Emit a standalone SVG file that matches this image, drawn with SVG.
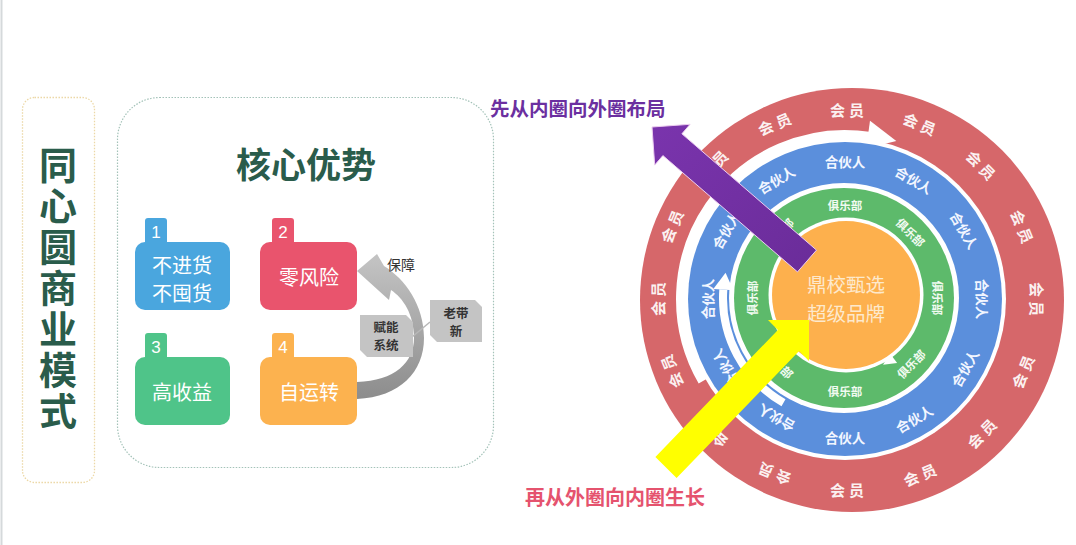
<svg xmlns="http://www.w3.org/2000/svg" width="1076" height="545" viewBox="0 0 1076 545">
<defs>
<style>
.cjk{font-family:"Noto Sans CJK SC","Noto Sans",sans-serif}
.rl{font-family:"Noto Sans CJK SC",sans-serif;font-weight:700;text-anchor:middle;dominant-baseline:central;fill:#fbf1f1}
.red{font-size:15px;letter-spacing:4px}
.blue{font-size:13.5px;fill:#f2f6ff}
.green{font-size:11.5px;fill:#f1fbf1}
.card{font-family:"Noto Sans CJK SC",sans-serif;font-size:20px;fill:#ffffff;text-anchor:middle}
.num{font-family:"Liberation Sans","Noto Sans",sans-serif;font-size:17px;fill:#ffffff;text-anchor:middle}
.snip{fill:#c4c4c4}
.snipt{font-family:"Noto Sans CJK SC",sans-serif;font-size:12.5px;font-weight:700;fill:#333;text-anchor:middle}
</style>
<linearGradient id="gArc" x1="0" y1="260" x2="0" y2="400" gradientUnits="userSpaceOnUse">
<stop offset="0" stop-color="#c2c2c2"/><stop offset="1" stop-color="#8c8c8c"/>
</linearGradient>
<linearGradient id="gPur" x1="0" y1="0" x2="1" y2="1">
<stop offset="0" stop-color="#7a34ad"/><stop offset="1" stop-color="#6a2c99"/>
</linearGradient>
</defs>
<rect width="1076" height="545" fill="#ffffff"/>
<line x1="1.5" y1="0" x2="1.5" y2="545" stroke="#d5d9db" stroke-width="2"/>

<g id="title-box">
<rect x="22.5" y="97.5" width="72" height="385" rx="12" fill="none" stroke="#ecd8a6" stroke-width="1.3" stroke-dasharray="1.5 1.5"/>
<text class="cjk" x="58" y="146" font-size="38" font-weight="700" fill="#2a5c4b" style="writing-mode:vertical-rl;text-orientation:upright;letter-spacing:3px">同心圆商业模式</text>
</g>

<g id="core-box">
<rect x="117.5" y="97.5" width="376" height="370" rx="42" fill="none" stroke="#a3c2b8" stroke-width="1.2" stroke-dasharray="1.5 1.5"/>
<text class="cjk" x="306" y="178" font-size="35" font-weight="700" fill="#2a5c4b" text-anchor="middle">核心优势</text>
</g>

<g id="card1">
<rect x="145" y="218" width="22" height="30" rx="3" fill="#4aa6de"/>
<rect x="135" y="242" width="95" height="68" rx="10" fill="#4aa6de"/>
<text class="num" x="156" y="238">1</text>
<text class="card" x="182" y="273">不进货</text>
<text class="card" x="182" y="301">不囤货</text>
</g>
<g id="card2">
<rect x="272" y="218" width="22" height="30" rx="3" fill="#e9546d"/>
<rect x="260" y="242" width="97" height="68" rx="10" fill="#e9546d"/>
<text class="num" x="283" y="238">2</text>
<text class="card" x="309" y="285">零风险</text>
</g>
<g id="card3">
<rect x="145" y="333" width="22" height="30" rx="3" fill="#4fc489"/>
<rect x="135" y="357" width="95" height="68" rx="10" fill="#4fc489"/>
<text class="num" x="156" y="353">3</text>
<text class="card" x="182" y="400">高收益</text>
</g>
<g id="card4">
<rect x="272" y="333" width="22" height="30" rx="3" fill="#fcb24f"/>
<rect x="260" y="357" width="97" height="68" rx="10" fill="#fcb24f"/>
<text class="num" x="283" y="353">4</text>
<text class="card" x="309" y="400">自运转</text>
</g>

<g id="connectors">
<path d="M357,271 L377,254 L384,266 C405,279 424,305 424,338 C424,372 400,397 357,399 L357,382 C395,381 414,362 414,338 C414,314 403,298 391,290 L389,300 Z" fill="url(#gArc)"/>
<line x1="412" y1="337" x2="430" y2="322" stroke="#b8b8b8" stroke-width="1.5"/>
</g>

<g id="label-baozhang">
<text class="cjk" x="401" y="270" font-size="14" fill="#333" text-anchor="middle">保障</text>
</g>
<g id="box-funeng">
<polygon class="snip" points="360,315 406,315 413,322 413,357 367,357 360,350"/>
<text class="snipt" x="386" y="332">赋能<tspan x="386" dy="18">系统</tspan></text>
</g>
<g id="box-laodaixin">
<polygon class="snip" points="430,300 475,300 482,307 482,342 437,342 430,335"/>
<text class="snipt" x="456" y="318">老带<tspan x="456" dy="18">新</tspan></text>
</g>

<g id="rings">
<circle cx="852" cy="300" r="212" fill="#d6676a"/>
<circle cx="845" cy="299" r="161" fill="#ffffff"/>
<path d="M703,381 A164,164 0 0 1 870.6,137" fill="none" stroke="#ffffff" stroke-width="10"/>
<polygon points="896.3,141.1 870,120.7 866.2,148.5" fill="#ffffff"/>
<circle cx="845" cy="299" r="157" fill="#5b8fdc"/>
<circle cx="844" cy="298" r="115" fill="#ffffff"/>
<path d="M783.5,402.8 A121,121 0 0 1 723.3,289.6" fill="none" stroke="#ffffff" stroke-width="8"/>
<polygon points="725.6,272.8 713.3,288.9 733.3,290.3" fill="#ffffff"/>
<circle cx="844" cy="298" r="110" fill="#5dba6b"/>
<circle cx="846" cy="295" r="77.5" fill="#ffffff"/>
<polygon points="883.1,364.8 897.1,362.9 889.9,353.3" fill="#ffffff"/>
<circle cx="846" cy="295" r="74" fill="#fdb04d"/>
</g>

<g id="ring-labels-member">
<text class="rl red" x="2" transform="translate(847,109) rotate(0)">会员</text>
<text class="rl red" x="2" transform="translate(919.7,123.5) rotate(22.5)">会员</text>
<text class="rl red" x="2" transform="translate(981.3,164.7) rotate(45)">会员</text>
<text class="rl red" x="2" transform="translate(1022.5,226.3) rotate(67.5)">会员</text>
<text class="rl red" x="2" transform="translate(1037,299) rotate(90)">会员</text>
<text class="rl red" x="2" transform="translate(1022.5,371.7) rotate(-67.5)">会员</text>
<text class="rl red" x="2" transform="translate(981.3,433.3) rotate(-45)">会员</text>
<text class="rl red" x="2" transform="translate(919.7,474.5) rotate(-22.5)">会员</text>
<text class="rl red" x="2" transform="translate(847,489) rotate(0)">会员</text>
<text class="rl red" x="2" transform="translate(774.3,474.5) rotate(202.5)">会员</text>
<text class="rl red" x="2" transform="translate(712.7,433.3) rotate(225)">会员</text>
<text class="rl red" x="2" transform="translate(671.5,371.7) rotate(247.5)">会员</text>
<text class="rl red" x="2" transform="translate(657,299) rotate(270)">会员</text>
<text class="rl red" x="2" transform="translate(671.5,226.3) rotate(292.5)">会员</text>
<text class="rl red" x="2" transform="translate(712.7,164.7) rotate(315)">会员</text>
<text class="rl red" x="2" transform="translate(774.3,123.5) rotate(337.5)">会员</text>
</g>
<g id="ring-labels-partner">
<text class="rl blue" transform="translate(845,161) rotate(0)">合伙人</text>
<text class="rl blue" transform="translate(914,179.5) rotate(30)">合伙人</text>
<text class="rl blue" transform="translate(964.5,230) rotate(60)">合伙人</text>
<text class="rl blue" transform="translate(983,299) rotate(90)">合伙人</text>
<text class="rl blue" transform="translate(964.5,368) rotate(-60)">合伙人</text>
<text class="rl blue" transform="translate(914,418.5) rotate(-30)">合伙人</text>
<text class="rl blue" transform="translate(845,437) rotate(0)">合伙人</text>
<text class="rl blue" transform="translate(776,418.5) rotate(210)">合伙人</text>
<text class="rl blue" transform="translate(725.5,368) rotate(240)">合伙人</text>
<text class="rl blue" transform="translate(707,299) rotate(270)">合伙人</text>
<text class="rl blue" transform="translate(725.5,230) rotate(300)">合伙人</text>
<text class="rl blue" transform="translate(776,179.5) rotate(330)">合伙人</text>
</g>
<g id="ring-labels-club">
<text class="rl green" transform="translate(845,205) rotate(0)">俱乐部</text>
<text class="rl green" transform="translate(910.8,232.2) rotate(45)">俱乐部</text>
<text class="rl green" transform="translate(938,298) rotate(90)">俱乐部</text>
<text class="rl green" transform="translate(910.8,363.8) rotate(-45)">俱乐部</text>
<text class="rl green" transform="translate(845,391) rotate(0)">俱乐部</text>
<text class="rl green" transform="translate(779.2,363.8) rotate(45)">俱乐部</text>
<text class="rl green" transform="translate(752,298) rotate(270)">俱乐部</text>
<text class="rl green" transform="translate(779.2,232.2) rotate(315)">俱乐部</text>
</g>
<g id="center">
<text class="cjk" x="846" y="292" font-size="19.5" fill="#fde9cc" text-anchor="middle">鼎校甄选</text>
<text class="cjk" x="846" y="320.5" font-size="19.5" fill="#fde9cc" text-anchor="middle">超级品牌</text>
</g>

<g id="arrows">
<polygon points="652,127 690.1,124.3 681.9,133.8 816.5,250.1 797.5,271.9 662.9,155.6 654.7,165.1" fill="url(#gPur)" stroke="#eccdf0" stroke-width="1"/>
<polygon points="809,320 809,361 799.1,351.1 676.6,478.1 655.4,456.9 777.9,329.9 768,320" fill="#ffff00"/>
</g>

<g id="text-out">
<text class="cjk" x="490" y="116" font-size="19.5" font-weight="700" fill="#6b2fa0">先从内圈向外圈布局</text>
</g>
<g id="text-in">
<text class="cjk" x="525" y="505" font-size="20" font-weight="700" fill="#e5536e">再从外圈向内圈生长</text>
</g>
</svg>
